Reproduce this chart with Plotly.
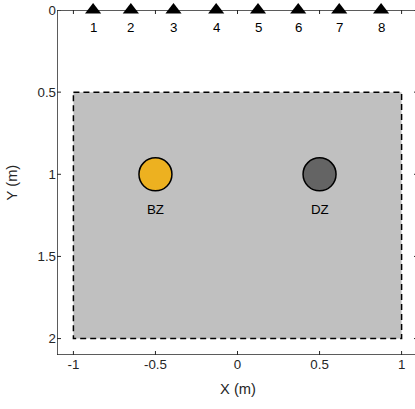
import plotly.graph_objects as go

# Data
sensor_labels = ["1", "2", "3", "4", "5", "6", "7", "8"]
sensor_x = [-0.88, -0.65, -0.39, -0.13, 0.125, 0.37, 0.62, 0.875]
sensor_y = [0, 0, 0, 0, 0, 0, 0, 0]

zone_labels = ["BZ", "DZ"]
zone_x = [-0.5, 0.5]
zone_y = [1.0, 1.0]
zone_colors = ["#EDB120", "#646464"]

rect_x = [-1, 1]
rect_y = [0.5, 2]

x_range = [-1.1, 1.1]
y_range = [0, 2.1]

x_ticks = [-1, -0.5, 0, 0.5, 1]
x_ticklabels = ["-1", "-0.5", "0", "0.5", "1"]
y_ticks = [0, 0.5, 1, 1.5, 2]
y_ticklabels = ["0", "0.5", "1", "1.5", "2"]

axis_color = "#262626"
font_family = "Liberation Sans, Arial, sans-serif"
tick_len = 4

fig = go.Figure()

# Data rectangle (dashed, gray)
fig.add_shape(type="rect", x0=rect_x[0], x1=rect_x[1], y0=rect_y[0], y1=rect_y[1],
              xref="x", yref="y", layer="below",
              fillcolor="#C0C0C0",
              line=dict(color="black", width=1.5, dash="6px,4px"))

# Axis box drawn as an unclipped line trace along the axis limits
fig.add_trace(go.Scatter(
    x=[x_range[0], x_range[1], x_range[1], x_range[0], x_range[0]],
    y=[y_range[0], y_range[0], y_range[1], y_range[1], y_range[0]],
    mode="lines", cliponaxis=False, line=dict(color=axis_color, width=1.5),
    showlegend=False, hoverinfo="skip"))

# Inward tick marks on all four sides
for xv in x_ticks:
    fig.add_shape(type="line", xref="x", yref="paper", x0=xv, x1=xv,
                  ysizemode="pixel", yanchor=0, y0=0, y1=tick_len,
                  line=dict(color=axis_color, width=1), layer="above")
    fig.add_shape(type="line", xref="x", yref="paper", x0=xv, x1=xv,
                  ysizemode="pixel", yanchor=1, y0=0, y1=-tick_len,
                  line=dict(color=axis_color, width=1), layer="above")
for yv in y_ticks:
    fig.add_shape(type="line", xref="paper", yref="y", y0=yv, y1=yv,
                  xsizemode="pixel", xanchor=0, x0=0, x1=tick_len,
                  line=dict(color=axis_color, width=1), layer="above")
    fig.add_shape(type="line", xref="paper", yref="y", y0=yv, y1=yv,
                  xsizemode="pixel", xanchor=1, x0=0, x1=-tick_len,
                  line=dict(color=axis_color, width=1), layer="above")

fig.add_trace(go.Scatter(
    x=sensor_x, y=sensor_y, mode="markers", cliponaxis=False,
    marker=dict(symbol="triangle-up", size=14, color="black",
                line=dict(width=0)),
    showlegend=False, hoverinfo="skip"))

for xv, lab in zip(sensor_x, sensor_labels):
    fig.add_annotation(x=xv, y=0, text=lab, showarrow=False, xref="x", yref="y",
                       yshift=-17, font=dict(size=13.3, color="black", family=font_family))

fig.add_trace(go.Scatter(
    x=zone_x, y=zone_y, mode="markers", cliponaxis=False,
    marker=dict(symbol="circle", size=33, color=zone_colors,
                line=dict(width=1.5, color="black")),
    showlegend=False, hoverinfo="skip"))

for xv, yv, lab in zip(zone_x, zone_y, zone_labels):
    fig.add_annotation(x=xv, y=yv, text=lab, showarrow=False, xref="x", yref="y",
                       yshift=-35, font=dict(size=13.3, color="black", family=font_family))

# Axis titles as annotations for precise placement
fig.add_annotation(x=0.5, y=-0.099, xref="paper", yref="paper", text="X (m)",
                   showarrow=False, xanchor="center", yanchor="middle",
                   font=dict(size=14.7, color=axis_color, family=font_family))
fig.add_annotation(x=-0.125, y=0.5, xref="paper", yref="paper", text="Y (m)",
                   showarrow=False, xanchor="center", yanchor="middle", textangle=-90,
                   font=dict(size=14.7, color=axis_color, family=font_family))

axis_common = dict(
    showgrid=False, zeroline=False, showline=False, ticks="",
    tickfont=dict(size=13.3, color=axis_color, family=font_family),
)

fig.update_xaxes(range=x_range, tickvals=x_ticks, ticktext=x_ticklabels, **axis_common)
fig.update_yaxes(range=y_range[::-1], tickvals=y_ticks, ticktext=y_ticklabels, **axis_common)

fig.update_layout(
    width=420, height=409,
    margin=dict(l=57, r=2, t=10, b=54),
    paper_bgcolor="white", plot_bgcolor="white",
    font=dict(family=font_family),
)

fig.write_html("out.html")
